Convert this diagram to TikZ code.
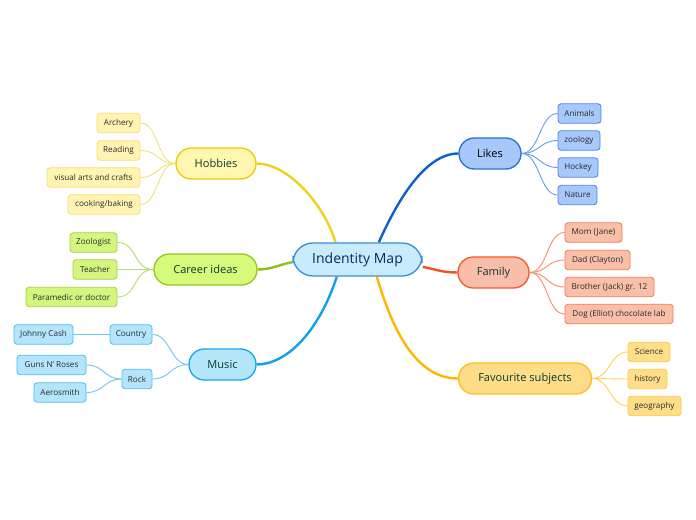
\documentclass[tikz,border=0pt]{standalone}
\usepackage{fontspec}
\setmainfont{Open Sans}
\usetikzlibrary{backgrounds}
\definecolor{cenfill}{HTML}{C8ECFE}
\definecolor{cenbord}{HTML}{3A8FD2}
\definecolor{centext}{HTML}{0F2A55}
\definecolor{midtext}{HTML}{0A3B2E}
\definecolor{leaftext}{HTML}{2A2A2A}
% hobbies
\definecolor{hobF}{HTML}{FFF6B0}\definecolor{hobB}{HTML}{EECD00}\definecolor{hobC}{HTML}{F0D21A}
\definecolor{hobLF}{HTML}{FFF4B2}\definecolor{hobLB}{HTML}{F6DF78}\definecolor{hobLC}{HTML}{F5E07E}
% career
\definecolor{carF}{HTML}{D6FA7C}\definecolor{carB}{HTML}{98C81E}\definecolor{carC}{HTML}{8CC21C}
\definecolor{carLF}{HTML}{D4F57E}\definecolor{carLB}{HTML}{A8D040}\definecolor{carLC}{HTML}{B8DA70}
% music
\definecolor{musF}{HTML}{B4E6FC}\definecolor{musB}{HTML}{1CA6E8}\definecolor{musC}{HTML}{14A0E6}
\definecolor{musLF}{HTML}{B4E5FC}\definecolor{musLB}{HTML}{4DBCEE}\definecolor{musLC}{HTML}{70C8F0}
% likes
\definecolor{likF}{HTML}{A8C8FB}\definecolor{likB}{HTML}{2A72CE}\definecolor{likC}{HTML}{1060CC}
\definecolor{likLF}{HTML}{A6C8FA}\definecolor{likLB}{HTML}{4A86E0}\definecolor{likLC}{HTML}{6A9EEA}
% family
\definecolor{famF}{HTML}{F9BEAA}\definecolor{famB}{HTML}{F45A2A}\definecolor{famC}{HTML}{F4511E}
\definecolor{famLF}{HTML}{F9BFA9}\definecolor{famLB}{HTML}{F47A55}\definecolor{famLC}{HTML}{F5906E}
% favourite
\definecolor{favF}{HTML}{FFDD88}\definecolor{favB}{HTML}{FDBE22}\definecolor{favC}{HTML}{FFB700}
\definecolor{favLF}{HTML}{FFDE8A}\definecolor{favLB}{HTML}{FFC840}\definecolor{favLC}{HTML}{FFD060}
\tikzset{
  central/.style={draw=cenbord,fill=cenfill,line width=1pt,rounded corners=15,inner sep=0pt,
    minimum height=24.75pt,text=centext,font=\fontsize{10.5}{12}\selectfont},
  topic/.style 2 args={draw=#2,fill=#1,line width=1pt,rounded corners=11.5pt,inner sep=0pt,
    minimum height=23.25pt,text=midtext,font=\fontsize{8.3}{10}\selectfont},
  leaf/.style 2 args={draw=#2,fill=#1,line width=0.6pt,rounded corners=2.2pt,inner sep=0pt,
    minimum height=14.5pt,text=leaftext,font=\fontsize{6.1}{7}\selectfont},
  mainline/.style={line width=1.8pt,draw=#1},
  subline/.style={line width=0.7pt,draw=#1},
}
\begin{document}
\begin{tikzpicture}[x=0.75pt,y=-0.75pt]
\useasboundingbox (0,0) rectangle (696,520);
% central
\node[central,minimum width=96.75pt] (cen) at (357.5,259.5) {Indentity Map};
% topics
\node[topic={hobF}{hobB},minimum width=60pt] (hob) at (216,163.5) {Hobbies};
\node[topic={carF}{carB},minimum width=77.25pt] (car) at (205.5,269.5) {Career ideas};
\node[topic={musF}{musB},minimum width=50.25pt] (mus) at (222.5,364.5) {Music};
\node[topic={likF}{likB},minimum width=46.5pt,text=black] (lik) at (490,153.5) {Likes};
\node[topic={famF}{famB},minimum width=53.25pt] (fam) at (493.5,272.5) {Family};
\node[topic={favF}{favB},minimum width=99.75pt] (fav) at (525,378.5) {Favourite subjects};
% hobbies leaves
\node[leaf={hobLF}{hobLB},minimum width=32.25pt] (h1) at (118.5,123) {Archery};
\node[leaf={hobLF}{hobLB},minimum width=32.25pt] (h2) at (118.5,150.5) {Reading};
\node[leaf={hobLF}{hobLB},minimum width=69.75pt] (h3) at (93.5,177.5) {visual arts and crafts};
\node[leaf={hobLF}{hobLB},minimum width=54pt] (h4) at (104,204.5) {cooking/baking};
% career leaves
\node[leaf={carLF}{carLB},minimum width=35.25pt] (c1) at (93.5,242.5) {Zoologist};
\node[leaf={carLF}{carLB},minimum width=33pt] (c2) at (95,269.5) {Teacher};
\node[leaf={carLF}{carLB},minimum width=68.25pt] (c3) at (71.5,297) {Paramedic or doctor};
% music leaves
\node[leaf={musLF}{musLB},minimum width=31.5pt] (m1) at (131,334.5) {Country};
\node[leaf={musLF}{musLB},minimum width=44.25pt] (m11) at (43.5,334.5) {Johnny Cash};
\node[leaf={musLF}{musLB},minimum width=22.5pt] (m2) at (137,379) {Rock};
\node[leaf={musLF}{musLB},minimum width=51.75pt] (m21) at (51.5,365) {Guns N' Roses};
\node[leaf={musLF}{musLB},minimum width=39pt] (m22) at (60,392.5) {Aerosmith};
% likes leaves
\node[leaf={likLF}{likLB},minimum width=32.25pt] (l1) at (579.5,113.5) {Animals};
\node[leaf={likLF}{likLB},minimum width=31.5pt] (l2) at (579,140.5) {zoology};
\node[leaf={likLF}{likLB},minimum width=30pt] (l3) at (578,167.5) {Hockey};
\node[leaf={likLF}{likLB},minimum width=29.25pt] (l4) at (577.5,195) {Nature};
% family leaves
\node[leaf={famLF}{famLB},minimum width=42.75pt] (f1) at (593.5,232.5) {Mom (Jane)};
\node[leaf={famLF}{famLB},minimum width=48.75pt] (f2) at (597.5,260) {Dad (Clayton)};
\node[leaf={famLF}{famLB},minimum width=66.75pt] (f3) at (609.5,287) {Brother (Jack) gr. 12};
\node[leaf={famLF}{famLB},minimum width=81pt] (f4) at (619,314) {Dog (Elliot) chocolate lab};
% favourite leaves
\node[leaf={favLF}{favLB},minimum width=31.5pt] (s1) at (649,352) {Science};
\node[leaf={favLF}{favLB},minimum width=29.25pt] (s2) at (647.5,379) {history};
\node[leaf={favLF}{favLB},minimum width=39.75pt] (s3) at (654.5,406) {geography};
\begin{scope}[on background layer]
% main connectors
\draw[mainline=hobC] ([xshift=-16.5pt]cen.north) .. controls +(-12,-40) and +(30,0) .. (hob.east);
\draw[mainline=likC] ([xshift=16pt]cen.north) .. controls +(20,-45) and +(-32,0) .. (lik.west);
\draw[mainline=carC] ([yshift=-2pt]cen.west) .. controls +(-12,2) and +(14,0) .. (car.east);
\draw[mainline=musC] ([xshift=-15.5pt]cen.south) .. controls +(-18,55) and +(30,0) .. (mus.east);
\draw[mainline=favC] ([xshift=14.5pt]cen.south) .. controls +(18,62) and +(-38,0) .. (fav.west);
\draw[mainline=famC] ([yshift=-5.5pt]cen.east) .. controls +(15,3) and +(-15,0) .. (fam.west);
% sub connectors
\foreach \l in {h1,h2,h3,h4}{\draw[subline=hobLC] (hob.west) .. controls +(-18,0) and +(18,0) .. (\l.east);}
\foreach \l in {c1,c2,c3}{\draw[subline=carLC] (car.west) .. controls +(-20,0) and +(20,0) .. (\l.east);}
\foreach \l in {m1,m2}{\draw[subline=musLC] (mus.west) .. controls +(-18,0) and +(18,0) .. (\l.east);}
\draw[subline=musLC] (m1.west) -- (m11.east);
\foreach \l in {m21,m22}{\draw[subline=musLC] (m2.west) .. controls +(-18,0) and +(18,0) .. (\l.east);}
\foreach \l in {l1,l2,l3,l4}{\draw[subline=likLC] (lik.east) .. controls +(18,0) and +(-18,0) .. (\l.west);}
\foreach \l in {f1,f2,f3,f4}{\draw[subline=famLC] (fam.east) .. controls +(18,0) and +(-18,0) .. (\l.west);}
\foreach \l in {s1,s2,s3}{\draw[subline=favLC] (fav.east) .. controls +(18,0) and +(-18,0) .. (\l.west);}
\end{scope}
\end{tikzpicture}
\end{document}
